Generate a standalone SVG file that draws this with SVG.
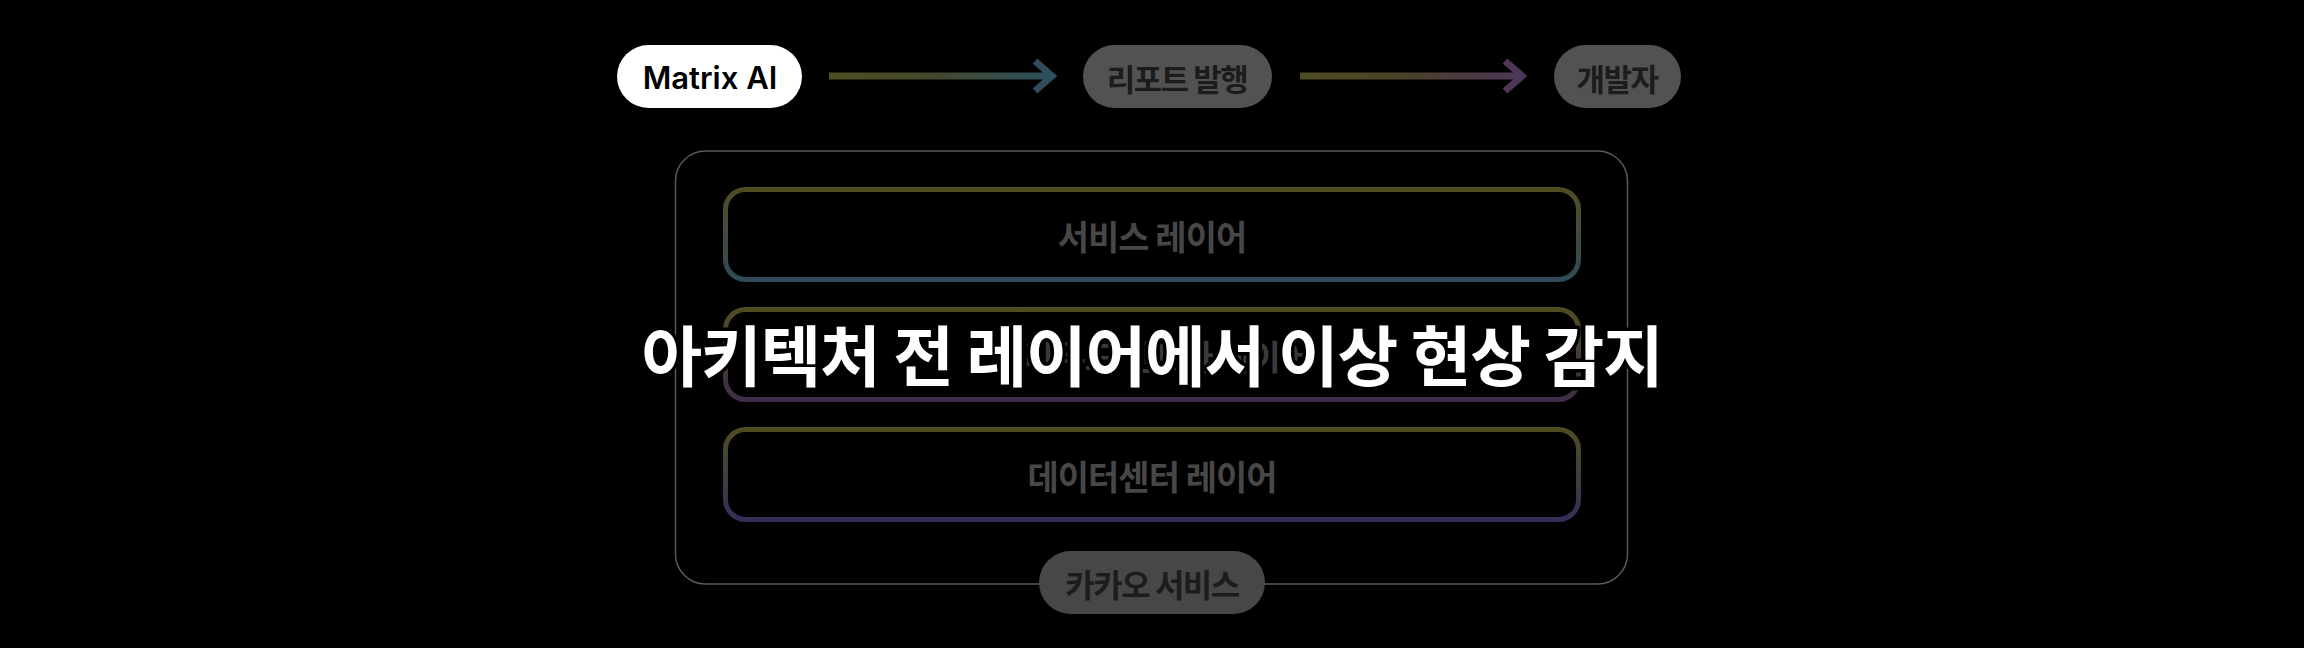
<svg xmlns="http://www.w3.org/2000/svg" width="2304" height="648" viewBox="0 0 2304 648">
  <defs>
    <linearGradient id="gArrow1" gradientUnits="userSpaceOnUse" x1="829" y1="0" x2="1055" y2="0">
      <stop offset="0" stop-color="#4e4d22"/>
      <stop offset="0.45" stop-color="#44482c"/>
      <stop offset="1" stop-color="#2c4e5e"/>
    </linearGradient>
    <linearGradient id="gArrow2" gradientUnits="userSpaceOnUse" x1="1300" y1="0" x2="1525" y2="0">
      <stop offset="0" stop-color="#4e4d22"/>
      <stop offset="0.45" stop-color="#4a4228"/>
      <stop offset="1" stop-color="#4e3659"/>
    </linearGradient>
    <linearGradient id="gLayer1" x1="0" y1="0" x2="0" y2="1">
      <stop offset="0" stop-color="#4f4c22"/>
      <stop offset="1" stop-color="#2f4a5a"/>
    </linearGradient>
    <linearGradient id="gLayer2" x1="0" y1="0" x2="0" y2="1">
      <stop offset="0" stop-color="#4f4c22"/>
      <stop offset="1" stop-color="#3d2c4a"/>
    </linearGradient>
    <linearGradient id="gLayer3" x1="0" y1="0" x2="0" y2="1">
      <stop offset="0" stop-color="#4f4c22"/>
      <stop offset="1" stop-color="#332e58"/>
    </linearGradient>
  </defs>
  <style>
    .ko { font-family: "Noto Sans CJK KR", "Noto Sans", sans-serif; font-weight: 700; }
    .pill { fill: #525252; }
    .pilltxt { fill: #1c1c1c; font-size: 31px; letter-spacing: -1.5px; }
    .layer { fill: none; stroke-width: 5; }
    .layertxt { fill: #474747; font-size: 34px; letter-spacing: -1px; }
    .arrow { fill: none; stroke-width: 7; }
  </style>
  <rect x="0" y="0" width="2304" height="648" fill="#000000"/>

  <g id="kakao-container">
    <rect x="675.5" y="151" width="952" height="433" rx="30" fill="none" stroke="#5a5a5a" stroke-width="1.5"/>
  </g>

  <g id="service-layer">
    <rect class="layer" x="725.5" y="189.5" width="853" height="90" rx="20" stroke="url(#gLayer1)"/>
    <text class="ko layertxt" x="1152" y="235" text-anchor="middle" dominant-baseline="central">서비스 레이어</text>
  </g>
  <g id="cloud-layer">
    <rect class="layer" x="725.5" y="309.5" width="853" height="90" rx="20" stroke="url(#gLayer2)"/>
    <text class="ko layertxt" x="1152" y="355" text-anchor="middle" dominant-baseline="central" style="fill:#3a3a3a">클라우드 인프라 레이어</text>
  </g>
  <g id="datacenter-layer">
    <rect class="layer" x="725.5" y="429.5" width="853" height="90" rx="20" stroke="url(#gLayer3)"/>
    <text class="ko layertxt" x="1152" y="475" text-anchor="middle" dominant-baseline="central">데이터센터 레이어</text>
  </g>

  <g id="kakao-service">
    <rect x="1039" y="551" width="226" height="63" rx="31.5" fill="#474747"/>
    <text class="ko pilltxt" x="1152" y="583" text-anchor="middle" dominant-baseline="central" style="font-size:32px">카카오 서비스</text>
  </g>

  <g id="connectors">
    <path class="arrow" d="M829,76 H1051" stroke="url(#gArrow1)"/>
    <path class="arrow" d="M1035,61 L1052,76 L1035,91" stroke="url(#gArrow1)"/>
    <path class="arrow" d="M1300,76 H1521" stroke="url(#gArrow2)"/>
    <path class="arrow" d="M1505,61 L1522,76 L1505,91" stroke="url(#gArrow2)"/>
  </g>

  <g id="matrix-ai">
    <rect x="617" y="45" width="185" height="63" rx="31.5" fill="#ffffff"/>
    <text x="710" y="77" text-anchor="middle" dominant-baseline="central" font-family="Inter, 'Noto Sans', sans-serif" font-weight="600" font-size="31" fill="#000000">Matrix AI</text>
  </g>
  <g id="report">
    <rect class="pill" x="1083" y="45" width="189" height="63" rx="31.5"/>
    <text class="ko pilltxt" x="1177" y="77" text-anchor="middle" dominant-baseline="central">리포트 발행</text>
  </g>
  <g id="developer">
    <rect class="pill" x="1554" y="45" width="127" height="63" rx="31.5"/>
    <text class="ko pilltxt" x="1617" y="77" text-anchor="middle" dominant-baseline="central">개발자</text>
  </g>

  <g id="title">
    <text class="ko" x="1152" y="381" text-anchor="middle" font-size="66" letter-spacing="-1.2" fill="#ffffff" stroke="#000000" stroke-width="7" stroke-linejoin="round" paint-order="stroke">아키텍처 전 레이어에서 이상 현상 감지</text>
  </g>
</svg>
